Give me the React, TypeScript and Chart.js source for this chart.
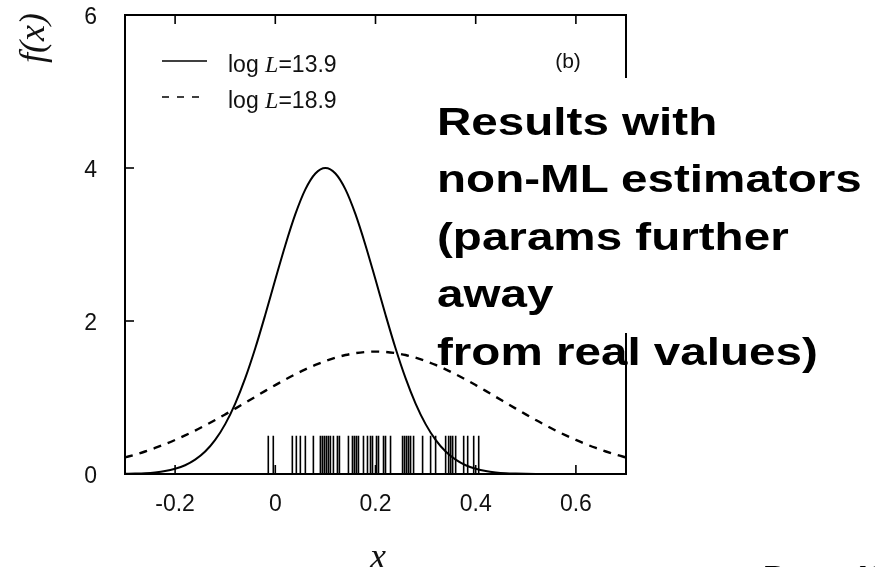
import React, { useEffect, useRef } from "react";
import { Chart, registerables } from "chart.js";

Chart.register(...registerables);

// x sampling grid used for both density curves
const X_GRID = [
  -0.3, -0.28, -0.26, -0.24, -0.22, -0.2, -0.18, -0.16, -0.14, -0.12, -0.1, -0.08, -0.06, -0.04, -0.02,
  0.0, 0.02, 0.04, 0.06, 0.08, 0.1, 0.12, 0.14, 0.16, 0.18, 0.2, 0.22, 0.24, 0.26, 0.28, 0.3,
  0.32, 0.34, 0.36, 0.38, 0.4, 0.42, 0.44, 0.46, 0.48, 0.5, 0.52, 0.54, 0.56, 0.58, 0.6,
  0.62, 0.64, 0.66, 0.68, 0.7,
];

// solid curve, log L = 13.9
const SOLID_Y = [
  0.003, 0.006, 0.011, 0.021, 0.038, 0.068, 0.114, 0.187, 0.293, 0.446, 0.652, 0.921, 1.253, 1.644, 2.082,
  2.542, 2.991, 3.396, 3.72, 3.928, 4.0, 3.928, 3.72, 3.396, 2.991, 2.542, 2.082, 1.644, 1.253, 0.921, 0.652,
  0.446, 0.293, 0.187, 0.114, 0.068, 0.038, 0.021, 0.011, 0.006, 0.003, 0.001, 0.0, 0.0, 0.0, 0.0,
  0.0, 0.0, 0.0, 0.0, 0.0,
];

// dashed curve, log L = 18.9
const DASHED_Y = [
  0.217, 0.253, 0.294, 0.34, 0.39, 0.445, 0.504, 0.567, 0.635, 0.705, 0.779, 0.855, 0.932, 1.009, 1.087,
  1.162, 1.235, 1.304, 1.368, 1.426, 1.477, 1.52, 1.555, 1.58, 1.595, 1.6, 1.595, 1.58, 1.555, 1.52, 1.477,
  1.426, 1.368, 1.304, 1.235, 1.162, 1.087, 1.009, 0.932, 0.855, 0.779, 0.705, 0.635, 0.567, 0.504, 0.445,
  0.39, 0.34, 0.294, 0.253, 0.217,
];

// observed data points (rug)
const RUG_X = [
  -0.014, -0.004, 0.034, 0.042, 0.05, 0.06, 0.076, 0.09, 0.094, 0.098, 0.102, 0.106, 0.11, 0.116,
  0.124, 0.128, 0.146, 0.154, 0.158, 0.162, 0.166, 0.176, 0.184, 0.19, 0.194, 0.202, 0.206, 0.216,
  0.22, 0.23, 0.254, 0.258, 0.262, 0.266, 0.27, 0.276, 0.294, 0.31, 0.32, 0.34, 0.346, 0.35, 0.354,
  0.36, 0.376, 0.384, 0.396, 0.406,
];
const RUG_HEIGHT = 0.5;

const X_TICKS = [-0.2, 0, 0.2, 0.4, 0.6];
const X_TICK_LABELS = ["-0.2", "0", "0.2", "0.4", "0.6"];
const Y_TICKS = [0, 2, 4, 6];
const Y_TICK_LABELS = ["0", "2", "4", "6"];

const LEGEND_ITEMS = [
  { pre: "log ", ital: "L", post: "=13.9", dash: [] as number[] },
  { pre: "log ", ital: "L", post: "=18.9", dash: [7, 8] },
];
const PANEL_LABEL = "(b)";
const Y_TITLE = "f(x)";
const X_TITLE = "x";
const NOTE_LINES = ["Results with", "non-ML estimators", "(params further", "away", "from real values)"];
const PAGE_LABEL = "Page 40";

const SANS = "'Liberation Sans', Arial, sans-serif";
const SERIF = "'Liberation Serif', 'Times New Roman', serif";

const decorPlugin = {
  id: "decor",
  afterDatasetsDraw(chart: any) {
    const { ctx, chartArea: a, scales } = chart;
    const TL = 9;
    ctx.save();
    ctx.strokeStyle = "#000";
    ctx.fillStyle = "#111";
    ctx.lineWidth = 2;
    ctx.setLineDash([]);
    ctx.strokeRect(a.left, a.top, a.right - a.left, a.bottom - a.top);
    ctx.lineWidth = 1.6;
    const seg = (x1: number, y1: number, x2: number, y2: number) => {
      ctx.beginPath();
      ctx.moveTo(x1, y1);
      ctx.lineTo(x2, y2);
      ctx.stroke();
    };
    for (const v of X_TICKS) {
      const px = scales.x.getPixelForValue(v);
      seg(px, a.bottom, px, a.bottom - TL);
      seg(px, a.top, px, a.top + TL);
    }
    for (const v of Y_TICKS) {
      const py = scales.y.getPixelForValue(v);
      seg(a.left, py, a.left + TL, py);
      seg(a.right, py, a.right - TL, py);
    }

    // legend
    LEGEND_ITEMS.forEach((it, i) => {
      const cy = a.top + 46 + i * 36;
      ctx.lineWidth = 1.6;
      ctx.setLineDash(it.dash);
      seg(a.left + 37, cy, a.left + 82, cy);
      ctx.setLineDash([]);
      const by = cy + 11;
      let x = a.left + 103;
      ctx.textBaseline = "alphabetic";
      ctx.textAlign = "left";
      ctx.font = `23px ${SANS}`;
      ctx.fillText(it.pre, x, by);
      x += ctx.measureText(it.pre).width;
      ctx.font = `italic 24px ${SERIF}`;
      ctx.fillText(it.ital, x, by);
      x += ctx.measureText(it.ital).width;
      ctx.font = `23px ${SANS}`;
      ctx.fillText(it.post, x, by);
    });

    // panel label
    ctx.font = `21px ${SANS}`;
    ctx.textAlign = "center";
    ctx.textBaseline = "alphabetic";
    ctx.fillText(PANEL_LABEL, 568, 68);

    // y title
    ctx.save();
    ctx.translate(35, 38);
    ctx.rotate(-Math.PI / 2);
    ctx.font = `italic 36px ${SERIF}`;
    ctx.textAlign = "center";
    ctx.textBaseline = "middle";
    ctx.fillText(Y_TITLE, 0, 0);
    ctx.restore();

    // x title
    ctx.font = `italic 36px ${SERIF}`;
    ctx.textAlign = "center";
    ctx.textBaseline = "alphabetic";
    ctx.fillText(X_TITLE, 378, 568);
    ctx.restore();
  },
};

export default function App() {
  const ref = useRef<HTMLCanvasElement>(null);

  useEffect(() => {
    const solid = X_GRID.map((x, i) => ({ x, y: SOLID_Y[i] }));
    const dashed = X_GRID.map((x, i) => ({ x, y: DASHED_Y[i] }));
    const rug: { x: number; y: number | null }[] = [];
    RUG_X.forEach((x) => {
      rug.push({ x, y: 0 });
      rug.push({ x, y: RUG_HEIGHT });
      rug.push({ x, y: null });
    });

    const chart = new Chart(ref.current!, {
      type: "line",
      data: {
        datasets: [
          {
            label: "log L=13.9",
            data: solid,
            borderColor: "#000",
            borderWidth: 2,
            pointRadius: 0,
            cubicInterpolationMode: "monotone",
            fill: false,
          },
          {
            label: "log L=18.9",
            data: dashed,
            borderColor: "#000",
            borderWidth: 2.4,
            borderDash: [8, 7],
            pointRadius: 0,
            cubicInterpolationMode: "monotone",
            fill: false,
          },
          {
            label: "data",
            data: rug as any,
            borderColor: "#000",
            borderWidth: 1.6,
            pointRadius: 0,
            spanGaps: false,
            fill: false,
          },
        ],
      },
      options: {
        animation: false,
        responsive: false,
        maintainAspectRatio: false,
        layout: { padding: { left: 0, right: 249, top: 15, bottom: 0 } },
        plugins: { legend: { display: false }, tooltip: { enabled: false } },
        scales: {
          x: {
            type: "linear",
            min: -0.3,
            max: 0.7,
            grid: { display: false, drawTicks: false },
            border: { display: false },
            afterBuildTicks: (s: any) => {
              s.ticks = X_TICKS.map((v) => ({ value: v }));
            },
            afterFit: (s: any) => {
              s.height = 93;
              s.paddingLeft = 0;
              s.paddingRight = 0;
            },
            ticks: {
              padding: 17,
              color: "#111",
              font: { family: SANS, size: 23 },
              maxRotation: 0,
              autoSkip: false,
              callback: (v: any) => {
                const i = X_TICKS.findIndex((t) => Math.abs(t - Number(v)) < 1e-9);
                return i >= 0 ? X_TICK_LABELS[i] : "";
              },
            },
          },
          y: {
            type: "linear",
            min: 0,
            max: 6,
            grid: { display: false, drawTicks: false },
            border: { display: false },
            afterBuildTicks: (s: any) => {
              s.ticks = Y_TICKS.map((v) => ({ value: v }));
            },
            afterFit: (s: any) => {
              s.width = 125;
              s.paddingTop = 0;
              s.paddingBottom = 0;
            },
            ticks: {
              padding: 28,
              labelOffset: 3,
              color: "#111",
              font: { family: SANS, size: 23 },
              callback: (v: any) => {
                const i = Y_TICKS.findIndex((t) => Math.abs(t - Number(v)) < 1e-9);
                return i >= 0 ? Y_TICK_LABELS[i] : "";
              },
            },
          },
        },
      },
      plugins: [decorPlugin],
    } as any);
    return () => chart.destroy();
  }, []);

  return (
    <div
      style={{
        position: "absolute",
        left: 0,
        top: 0,
        width: 875,
        height: 567,
        background: "#fff",
        overflow: "hidden",
      }}
    >
      <canvas ref={ref} width={875} height={567} style={{ display: "block" }} />
      <div
        style={{
          position: "absolute",
          left: 430,
          top: 78,
          width: 445,
          height: 255,
          background: "#fff",
        }}
      />
      <div
        style={{
          position: "absolute",
          left: 437,
          top: 92.7,
          fontFamily: SANS,
          fontWeight: "bold",
          fontSize: 39,
          lineHeight: "57.5px",
          color: "#000",
          whiteSpace: "nowrap",
          transform: "scaleX(1.22)",
          transformOrigin: "left top",
        }}
      >
        {NOTE_LINES.map((l, i) => (
          <div key={i}>{l}</div>
        ))}
      </div>
      <div
        style={{
          position: "absolute",
          left: 763,
          top: 562,
          fontFamily: SANS,
          fontWeight: "bold",
          fontSize: 28,
          lineHeight: "28px",
          color: "#000",
          whiteSpace: "nowrap",
          transform: "scaleX(1.17)",
          transformOrigin: "left top",
        }}
      >
        {PAGE_LABEL}
      </div>
    </div>
  );
}
